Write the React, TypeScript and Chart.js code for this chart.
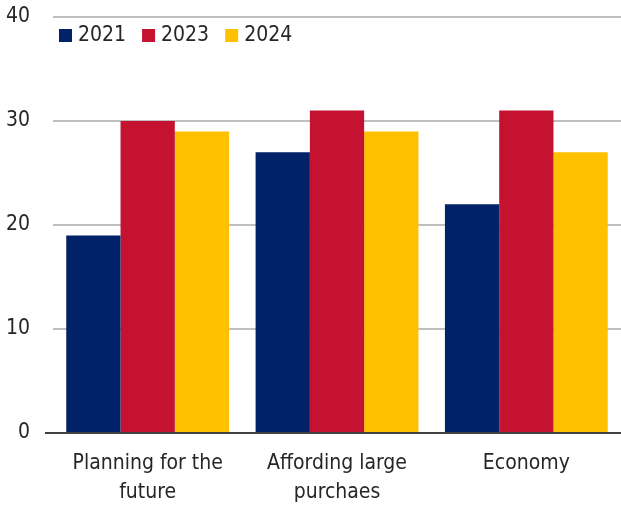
import React, { useEffect, useRef } from "react";
import { Chart, registerables } from "chart.js";

Chart.register(...registerables);

const categories: (string | string[])[] = [
  ["Planning for the", "future"],
  ["Affording large", "purchaes"],
  "Economy",
];
const seriesNames = ["2021", "2023", "2024"];
const values2021 = [19, 27, 22];
const values2023 = [30, 31, 31];
const values2024 = [29, 29, 27];
const colors = ["#012169", "#C41230", "#FFC000"];
const yTicks = [0, 10, 20, 30, 40];

const FONT = "'DejaVu Sans Condensed', sans-serif";
const TEXT = "#262626";

const legendPlugin = {
  id: "insideLegend",
  afterDraw(chart: any) {
    const ctx = chart.ctx;
    ctx.save();
    ctx.font = `21px ${FONT}`;
    ctx.textBaseline = "middle";
    let x = 59;
    const y = 35;
    chart.data.datasets.forEach((ds: any) => {
      ctx.fillStyle = ds.backgroundColor;
      ctx.fillRect(x, y - 6, 13, 13);
      x += 19;
      ctx.fillStyle = TEXT;
      ctx.fillText(ds.label, x, y + 1);
      x += ctx.measureText(ds.label).width + 16;
    });
    ctx.restore();
  },
};

const zeroPad = (axis: any) => {
  axis.paddingTop = 0;
  axis.paddingBottom = 0;
  axis.paddingLeft = 0;
  axis.paddingRight = 0;
};

export default function App() {
  const ref = useRef<HTMLCanvasElement>(null);
  useEffect(() => {
    document.body.style.margin = "0";
    const chart = new Chart(ref.current!, {
      type: "bar",
      data: {
        labels: categories,
        datasets: [values2021, values2023, values2024].map((v, i) => ({
          label: seriesNames[i],
          data: v,
          backgroundColor: colors[i],
          borderWidth: 0,
          barPercentage: 1,
          categoryPercentage: 0.86,
        })),
      },
      options: {
        animation: false,
        responsive: false,
        maintainAspectRatio: false,
        layout: { padding: { left: 6, top: 17, right: 0, bottom: 0 } },
        plugins: {
          legend: { display: false },
          tooltip: { enabled: false },
        },
        scales: {
          x: {
            afterFit: (axis: any) => {
              zeroPad(axis);
              axis.height = 75;
            },
            grid: { display: false, drawTicks: false },
            border: { display: false },
            ticks: {
              color: TEXT,
              font: { family: FONT, size: 21, lineHeight: 1.38 },
              padding: 16,
              maxRotation: 0,
              autoSkip: false,
            },
          },
          y: {
            min: 0,
            max: 40,
            afterFit: (axis: any) => {
              zeroPad(axis);
              axis.width = 47;
            },
            afterBuildTicks: (axis: any) => {
              axis.ticks = yTicks.map((v) => ({ value: v }));
            },
            grid: {
              color: (c: any) => (c.tick && c.tick.value === 0 ? "#404040" : "#BFBFBF"),
              lineWidth: 2,
              drawTicks: true,
              tickLength: 8,
              tickColor: (c: any) => (c.tick && c.tick.value === 0 ? "#404040" : "rgba(0,0,0,0)"),
            },
            border: { display: false },
            ticks: {
              color: TEXT,
              font: { family: FONT, size: 21 },
              padding: 15,
            },
          },
        },
      },
      plugins: [legendPlugin],
    });
    return () => chart.destroy();
  }, []);
  return (
    <div style={{ position: "relative", width: 621, height: 508 }}>
      <canvas ref={ref} width={621} height={508} style={{ width: 621, height: 508 }} />
    </div>
  );
}
